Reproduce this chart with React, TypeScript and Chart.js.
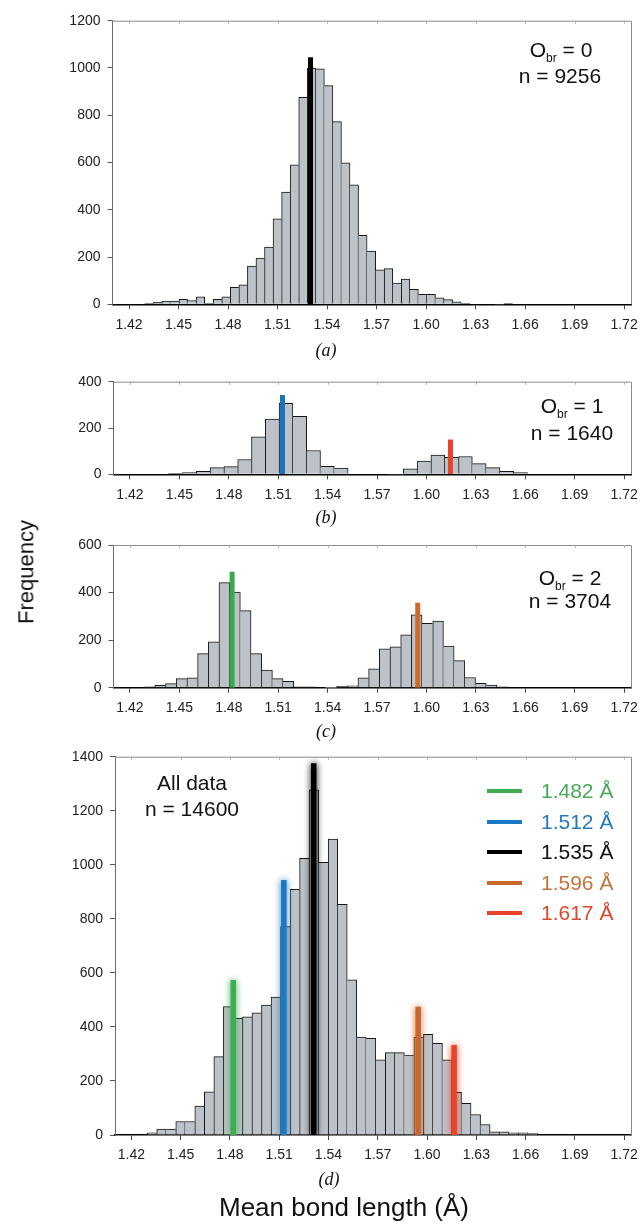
import React, { useEffect, useRef } from 'react';
import { Chart, registerables } from 'chart.js';

Chart.register(...registerables);

// ---------- shared axis ----------
const X_TICKS = [1.42, 1.45, 1.48, 1.51, 1.54, 1.57, 1.6, 1.63, 1.66, 1.69, 1.72];
const X_TICK_LABELS = ['1.42', '1.45', '1.48', '1.51', '1.54', '1.57', '1.60', '1.63', '1.66', '1.69', '1.72'];
const X_MIN = 1.41;
const X_MAX = 1.7242;
const Y_STEP = 200;

// ---------- (a) O_br = 0 ----------
const A_BIN_START = 1.4296;
const A_BIN_WIDTH = 0.00518;
const A_COUNTS = [4, 8, 14, 14, 21, 16, 32, 4, 21, 32, 72, 82, 162, 196, 242, 362, 475, 590, 876, 1000, 996, 925, 773, 599, 506, 292, 225, 146, 151, 90, 107, 63, 42, 42, 27, 20, 10, 4, 0, 0, 0, 0, 4];
const A_Y_MAX = 1200;
const A_MEAN_X = [1.53];
const A_MEAN_TOP = [1045];
const A_MEAN_COLORS = ['#000000'];

// ---------- (b) O_br = 1 ----------
const B_BIN_START = 1.4435;
const B_BIN_WIDTH = 0.00838;
const B_COUNTS = [4, 7, 13, 29, 33, 64, 162, 239, 307, 250, 103, 34, 27, 0, 0, 0, 0, 24, 57, 83, 73, 77, 46, 29, 13, 7];
const B_Y_MAX = 400;
const B_MEAN_X = [1.5126, 1.6146];
const B_MEAN_TOP = [343, 150];
const B_MEAN_COLORS = ['#1b75bc', '#e8442c'];

// ---------- (c) O_br = 2 ----------
const C_BIN_START = 1.4286;
const C_BIN_WIDTH = 0.00649;
const C_COUNTS = [4, 10, 17, 38, 42, 143, 193, 442, 402, 324, 143, 74, 38, 27, 4, 4, 0, 0, 6, 8, 42, 79, 163, 172, 222, 306, 271, 280, 175, 114, 43, 18, 11, 4];
const C_Y_MAX = 600;
const C_MEAN_X = [1.482, 1.5947];
const C_MEAN_TOP = [488, 357];
const C_MEAN_COLORS = ['#3aaa4f', '#cf6a2d'];

// ---------- (d) all data ----------
const D_BIN_START = 1.4296;
const D_BIN_WIDTH = 0.0058;
const D_COUNTS = [8, 22, 22, 50, 50, 107, 160, 290, 475, 432, 437, 452, 481, 510, 771, 909, 1024, 1277, 1009, 1095, 854, 574, 362, 358, 278, 305, 305, 296, 362, 373, 339, 278, 158, 117, 76, 39, 12, 12, 8, 8, 5];
const D_Y_MAX = 1400;
const D_MEAN_X = [1.482, 1.5128, 1.531, 1.5946, 1.6165];
const D_MEAN_TOP = [574, 944, 1376, 475, 333];
const D_MEAN_COLORS = ['#41ad52', '#1b78c2', '#000000', '#c9672f', '#e8442c'];

const LEGEND_LABELS = ['1.482 Å', '1.512 Å', '1.535 Å', '1.596 Å', '1.617 Å'];
const LEGEND_TEXT_COLORS = ['#45a95a', '#2479bd', '#111111', '#c4723c', '#d9472e'];

const BAR_FILL = '#bcc2c7';
const BAR_EDGE = '#161616';
const SANS = "'Liberation Sans', Arial, Helvetica, sans-serif";
const SERIF = "'Liberation Serif', 'Times New Roman', serif";

const framePlugin = {
  id: 'frameBox',
  beforeDatasetsDraw(chart: any) {
    const { ctx, chartArea: a } = chart;
    ctx.save();
    ctx.strokeStyle = '#8c8c8c';
    ctx.lineWidth = 1;
    ctx.beginPath();
    ctx.moveTo(a.left, a.top + 0.5);
    ctx.lineTo(a.right + 0.5, a.top + 0.5);
    ctx.lineTo(a.right + 0.5, a.bottom);
    ctx.stroke();
    ctx.strokeStyle = '#b0b0b0';
    ctx.beginPath();
    const xs = chart.scales.x;
    X_TICKS.forEach((v) => {
      const px = Math.round(xs.getPixelForValue(v)) + 0.5;
      ctx.moveTo(px, a.top);
      ctx.lineTo(px, a.top + 3);
    });
    ctx.stroke();
    ctx.restore();
  },
};

const glowPlugin = {
  id: 'meanGlow',
  beforeDatasetDraw(chart: any, args: any) {
    const ds = chart.data.datasets[args.index];
    if (ds && ds.glow) {
      chart.ctx.save();
      chart.ctx.shadowColor = ds.borderColor;
      chart.ctx.shadowBlur = 7;
    }
  },
  afterDatasetDraw(chart: any, args: any) {
    const ds = chart.data.datasets[args.index];
    if (ds && ds.glow) chart.ctx.restore();
  },
};

type PanelProps = {
  top: number;
  height: number;
  plotLeft: number;
  plotRight: number;
  plotTop: number;
  plotBottom: number;
  binStart: number;
  binWidth: number;
  counts: number[];
  yMax: number;
  meanX: number[];
  meanTop: number[];
  meanColors: string[];
  glow?: boolean;
};

function HistPanel(p: PanelProps) {
  const ref = useRef<HTMLCanvasElement>(null);
  useEffect(() => {
    const canvas = ref.current;
    if (!canvas) return;
    const XH = 30;
    const bars = p.counts.map((c, i) => ({ x: p.binStart + (i + 0.5) * p.binWidth, y: c }));
    const meanSets = p.meanX.map((x, i) => ({
      type: 'line',
      data: [
        { x, y: 0 },
        { x, y: p.meanTop[i] },
      ],
      borderColor: p.meanColors[i],
      borderWidth: p.glow ? 5.5 : 5,
      borderCapStyle: 'butt',
      pointRadius: 0,
      fill: false,
      order: 0,
      glow: !!p.glow,
    }));
    const counts = p.counts;
    const chart = new Chart(canvas, {
      type: 'bar',
      data: {
        datasets: [
          ...(meanSets as any[]),
          {
            type: 'bar',
            data: bars as any,
            backgroundColor: BAR_FILL,
            borderColor: BAR_EDGE,
            borderSkipped: 'start',
            borderWidth: (ctx: any) => {
              const i = ctx.dataIndex;
              if (i === undefined) return 1;
              const h = counts[i] || 0;
              const prev = i > 0 ? counts[i - 1] : 0;
              const next = i < counts.length - 1 ? counts[i + 1] : 0;
              return { top: 1, bottom: 0, left: h > prev ? 1 : 0, right: h >= next ? 1 : 0 };
            },
            barPercentage: 1,
            categoryPercentage: 1,
            order: 1,
          } as any,
        ],
      },
      options: {
        responsive: false,
        animation: false,
        devicePixelRatio: 1,
        events: [],
        layout: {
          padding: {
            left: 0,
            right: 640 - p.plotRight,
            top: p.plotTop - p.top,
            bottom: p.top + p.height - p.plotBottom - XH,
          },
        },
        plugins: {
          legend: { display: false },
          tooltip: { enabled: false },
          title: { display: false },
        },
        scales: {
          x: {
            type: 'linear',
            min: X_MIN,
            max: X_MAX,
            offset: false,
            afterBuildTicks: (scale: any) => {
              scale.ticks = X_TICKS.map((v) => ({ value: v }));
            },
            afterFit: (scale: any) => {
              scale.height = XH;
              scale.paddingLeft = 0;
              scale.paddingRight = 0;
            },
            ticks: {
              autoSkip: false,
              maxRotation: 0,
              minRotation: 0,
              padding: 7,
              color: '#222',
              font: { family: SANS, size: 14 },
              callback: (_v: any, i: number) => X_TICK_LABELS[i],
            },
            grid: {
              offset: false,
              drawOnChartArea: false,
              drawTicks: true,
              tickLength: 5,
              color: '#444',
              lineWidth: 1,
            },
            border: { display: true, color: '#000', width: 1.5 },
          },
          y: {
            type: 'linear',
            min: 0,
            max: p.yMax,
            afterFit: (scale: any) => {
              scale.width = p.plotLeft;
              scale.paddingTop = 0;
              scale.paddingBottom = 0;
            },
            ticks: {
              stepSize: Y_STEP,
              padding: 7,
              color: '#222',
              font: { family: SANS, size: 14 },
              callback: (v: any) => String(v),
            },
            grid: {
              drawOnChartArea: false,
              drawTicks: true,
              tickLength: 5,
              color: '#555',
              lineWidth: 1,
            },
            border: { display: true, color: '#6a6a6a', width: 1 },
          },
        },
      } as any,
      plugins: [framePlugin, glowPlugin],
    });
    return () => chart.destroy();
  }, []);
  return (
    <canvas
      ref={ref}
      width={640}
      height={p.height}
      style={{ position: 'absolute', left: 0, top: p.top, width: 640, height: p.height, display: 'block' }}
    />
  );
}

function Txt({ x, y, size, color = '#111', family = SANS, italic = false, children }: any) {
  return (
    <div
      style={{
        position: 'absolute',
        left: x,
        top: y,
        transform: 'translate(-50%, -50%)',
        fontFamily: family,
        fontSize: size,
        fontStyle: italic ? 'italic' : 'normal',
        color,
        lineHeight: 1.15,
        whiteSpace: 'nowrap',
      }}
    >
      {children}
    </div>
  );
}

function Obr({ n }: { n: string }) {
  return (
    <span>
      O<span style={{ fontSize: 12, position: 'relative', top: 5 }}>br</span> = {n}
    </span>
  );
}

export default function App() {
  return (
    <div
      style={{
        position: 'absolute',
        left: 0,
        top: 0,
        width: 640,
        height: 1225,
        background: '#fff',
        overflow: 'hidden',
      }}
    >
      <HistPanel
        top={0}
        height={340}
        plotLeft={112.5}
        plotRight={631}
        plotTop={20.7}
        plotBottom={304.3}
        binStart={A_BIN_START}
        binWidth={A_BIN_WIDTH}
        counts={A_COUNTS}
        yMax={A_Y_MAX}
        meanX={A_MEAN_X}
        meanTop={A_MEAN_TOP}
        meanColors={A_MEAN_COLORS}
      />
      <HistPanel
        top={370}
        height={140}
        plotLeft={113.5}
        plotRight={631}
        plotTop={381.7}
        plotBottom={474.3}
        binStart={B_BIN_START}
        binWidth={B_BIN_WIDTH}
        counts={B_COUNTS}
        yMax={B_Y_MAX}
        meanX={B_MEAN_X}
        meanTop={B_MEAN_TOP}
        meanColors={B_MEAN_COLORS}
      />
      <HistPanel
        top={535}
        height={185}
        plotLeft={113.5}
        plotRight={631}
        plotTop={545}
        plotBottom={687.7}
        binStart={C_BIN_START}
        binWidth={C_BIN_WIDTH}
        counts={C_COUNTS}
        yMax={C_Y_MAX}
        meanX={C_MEAN_X}
        meanTop={C_MEAN_TOP}
        meanColors={C_MEAN_COLORS}
      />
      <HistPanel
        top={745}
        height={435}
        plotLeft={115}
        plotRight={631}
        plotTop={756.7}
        plotBottom={1135}
        binStart={D_BIN_START}
        binWidth={D_BIN_WIDTH}
        counts={D_COUNTS}
        yMax={D_Y_MAX}
        meanX={D_MEAN_X}
        meanTop={D_MEAN_TOP}
        meanColors={D_MEAN_COLORS}
        glow
      />

      {/* panel annotations */}
      <Txt x={561} y={50} size={21}><Obr n="0" /></Txt>
      <Txt x={560} y={76} size={21}>n = 9256</Txt>
      <Txt x={572} y={406} size={21}><Obr n="1" /></Txt>
      <Txt x={572} y={433} size={21}>n = 1640</Txt>
      <Txt x={570} y={578} size={21}><Obr n="2" /></Txt>
      <Txt x={570} y={601} size={21}>n = 3704</Txt>
      <Txt x={192} y={783} size={21}>All data</Txt>
      <Txt x={192} y={809} size={21}>n = 14600</Txt>

      {/* legend of panel (d) */}
      {LEGEND_LABELS.map((lab, i) => (
        <React.Fragment key={lab}>
          <div
            style={{
              position: 'absolute',
              left: 487,
              top: 789 + i * 30.6,
              width: 35,
              height: 4,
              background: D_MEAN_COLORS[i],
            }}
          />
          <div
            style={{
              position: 'absolute',
              left: 541,
              top: 791 + i * 30.6,
              transform: 'translateY(-50%)',
              fontFamily: SANS,
              fontSize: 21,
              lineHeight: 1.15,
              color: LEGEND_TEXT_COLORS[i],
              whiteSpace: 'nowrap',
            }}
          >
            {lab}
          </div>
        </React.Fragment>
      ))}

      {/* sub-figure letters */}
      <Txt x={326} y={350} size={18} family={SERIF} italic>(a)</Txt>
      <Txt x={326} y={517} size={18} family={SERIF} italic>(b)</Txt>
      <Txt x={326} y={731} size={18} family={SERIF} italic>(c)</Txt>
      <Txt x={329} y={1179} size={18} family={SERIF} italic>(d)</Txt>

      {/* axis titles */}
      <div
        style={{
          position: 'absolute',
          left: 26,
          top: 572,
          transform: 'translate(-50%, -50%) rotate(-90deg)',
          fontFamily: SANS,
          fontSize: 22,
          lineHeight: 1.15,
          color: '#111',
          whiteSpace: 'nowrap',
        }}
      >
        Frequency
      </div>
      <Txt x={344} y={1208} size={26}>Mean bond length (Å)</Txt>
    </div>
  );
}
